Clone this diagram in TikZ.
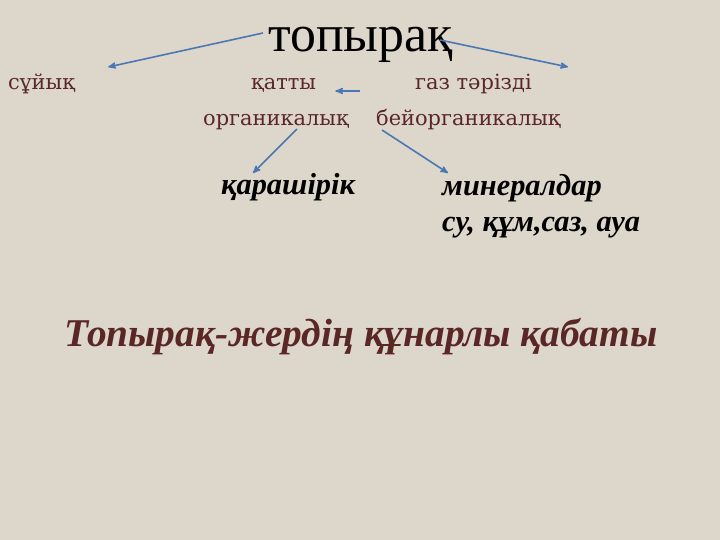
\documentclass[tikz,border=0pt]{standalone}
\usepackage{fontspec}
\setmainfont{DejaVu Serif}
\newfontfamily\titlefont{Liberation Serif}
\usetikzlibrary{calc}
\usetikzlibrary{arrows}

\definecolor{paper}{HTML}{DDD6CA}
\definecolor{wine}{HTML}{5A2626}
\definecolor{linkblue}{HTML}{4A78B4}

\tikzset{
  word/.style={inner sep=0, anchor=base west, text=wine, font=\fontsize{21}{24}\selectfont},
  kind/.style={inner sep=0, anchor=base west, text=black, font=\titlefont\fontsize{30.5}{34}\selectfont\bfseries\itshape},
  link/.style={linkblue, line width=1.6pt, ->, >=stealth'}
}

\begin{document}
\begin{tikzpicture}[x=1bp, y=-1bp]
\fill[paper] (0,0) rectangle (720,540);

\node[inner sep=0, anchor=base west] (title) at (268,52) {\titlefont\fontsize{52}{56}\selectfont топырақ};

\node[word] (liquid) at (8,90) {сұйық};
\node[word] (solid) at (251,90) {қатты};
\node[word] (gas) at (415,90) {газ тәрізді};
\node[word] (organic) at (203,126) {органикалық};
\node[word] (inorganic) at (376,126) {бейорганикалық};

\node[kind] (humus) at (221,195) {қарашірік};
\node[kind] (mineral) at (442,196) {минералдар};
\node[kind] (sample) at (442,232) {су, құм,саз, ауа};

\node[text=wine, font=\titlefont\fontsize{39.5}{44}\selectfont\bfseries\itshape] (caption) at (361,337) {Топырақ-жердің құнарлы қабаты};

% arrows
\coordinate (A) at ($(title.base west)+(-5,-19)$);
\coordinate (B) at ($(liquid.base east)+(33,-23)$);
\draw[link] (A) -- (B);
\coordinate (A) at ($(title.base east)+(-13,-12)$);
\coordinate (B) at (568,67);
\draw[link] (A) -- (B);
\coordinate (A) at (360,91);
\coordinate (B) at ($(solid.base east)+(19,1)$);
\draw[link] (A) -- (B);
\coordinate (A) at ($(organic.base east)+(-52,3)$);
\coordinate (B) at (253,173);
\draw[link] (A) -- (B);
\coordinate (A) at ($(inorganic.base west)+(6,4)$);
\coordinate (B) at (448,173);
\draw[link] (A) -- (B);

\end{tikzpicture}
\end{document}
